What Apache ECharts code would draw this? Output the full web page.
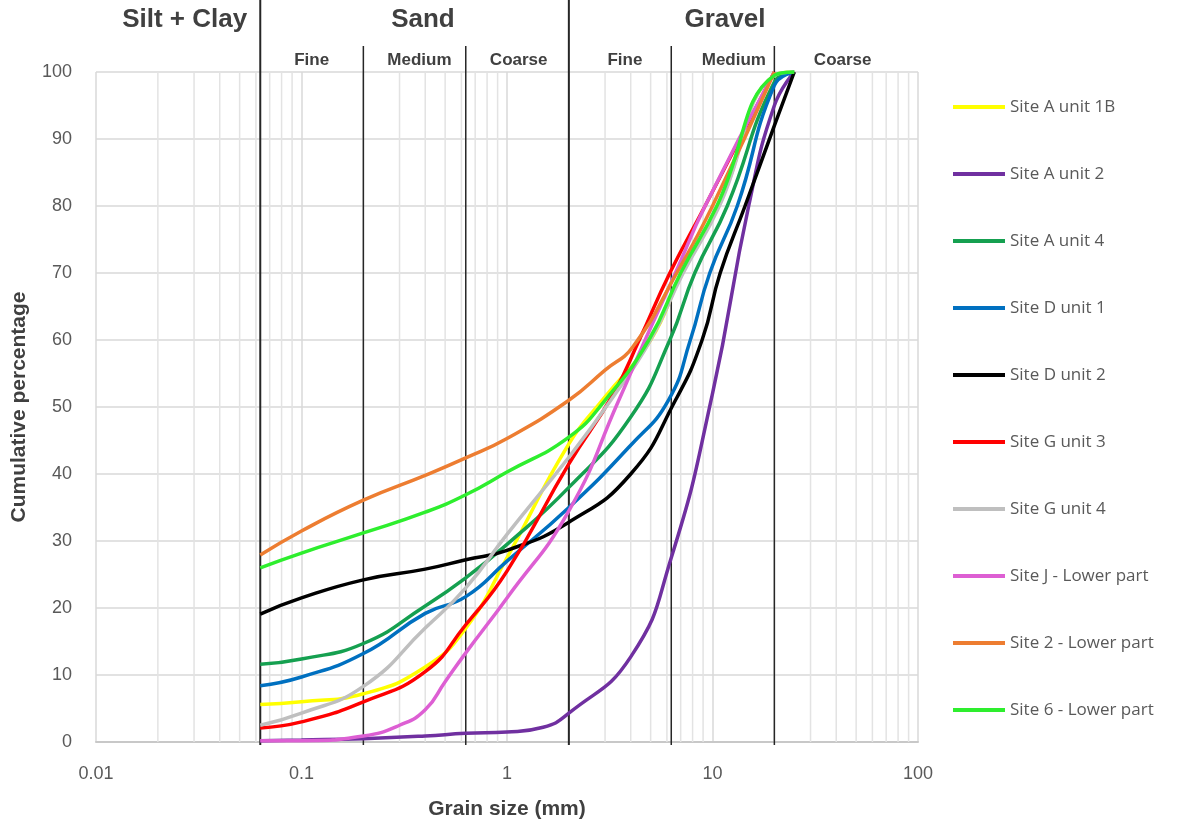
<!DOCTYPE html>
<html>
<head>
<meta charset="utf-8">
<script src="https://cdn.jsdelivr.net/npm/echarts@6/dist/echarts.min.js"></script>
<style>
  html, body { margin: 0; padding: 0; background: #fff; }
  #chart { width: 1181px; height: 825px; }
</style>
</head>
<body>
<div id="chart"></div>
<script>
// grain size (mm) and cumulative percentage
var siteA1B  = [[0.063, 5.6], [0.1, 6.0], [0.2, 7.2], [0.4, 11.2], [0.63, 17.0], [1, 27.5], [2, 44.5], [3, 51.5], [5.0, 60], [7.1, 70], [10.7, 80], [20, 99.5], [25, 100]];
var siteA2   = [[0.063, 0.2], [0.1, 0.3], [0.2, 0.5], [0.4, 0.9], [0.63, 1.3], [1, 1.5], [1.5, 2.2], [2, 4.3], [4, 12.7], [6.3, 27.5], [10, 52], [15, 80], [20, 95], [25, 100]];
var siteA4   = [[0.063, 11.6], [0.1, 12.4], [0.2, 14.7], [0.4, 20.3], [0.63, 24.5], [1, 29.5], [2, 38], [4, 48.5], [6.2, 60], [8.2, 70], [11.8, 80], [20, 98.5], [25, 100]];
var siteD1   = [[0.063, 8.4], [0.1, 9.7], [0.2, 13.2], [0.4, 19.2], [0.63, 21.7], [1, 27], [2, 35], [4, 44.3], [6.1, 51], [7.8, 60], [9.7, 70], [13.2, 80], [20, 98], [25, 100]];
var siteD2   = [[0.063, 19.1], [0.1, 21.5], [0.2, 24.2], [0.4, 25.8], [0.63, 27.2], [1, 28.6], [2, 32.8], [4, 40], [6.6, 51], [8.9, 60], [10.9, 70], [14.4, 80], [20, 92], [25, 100]];
var siteG3   = [[0.063, 2.1], [0.1, 3.0], [0.2, 6.0], [0.4, 10.5], [0.63, 17.5], [1, 25.5], [2, 41.5], [3.3, 52], [4.4, 60], [6.2, 70], [9.2, 80], [20, 100]];
var siteG4   = [[0.063, 2.5], [0.1, 4.3], [0.2, 8.3], [0.4, 17.0], [0.63, 23], [1, 31], [2, 42.5], [3.2, 51], [5.0, 60], [7.2, 70], [10.8, 80], [20, 99.5], [25, 100]];
var siteJ    = [[0.063, 0.2], [0.1, 0.2], [0.2, 0.9], [0.3, 2.5], [0.4, 4.8], [0.5, 9.0], [0.63, 13.3], [1, 21.5], [2, 34.5], [3.5, 51], [4.7, 60], [6.6, 70], [9.2, 80], [20, 100]];
var site2    = [[0.063, 27.9], [0.1, 31.5], [0.2, 36.1], [0.4, 39.8], [0.63, 42.4], [1, 45.3], [2, 51], [3, 55.5], [4.1, 59], [6.7, 70], [10, 80], [20, 100]];
var site6    = [[0.063, 26], [0.1, 28.2], [0.2, 31.2], [0.4, 34.3], [0.63, 36.9], [1, 40.3], [2, 45.5], [3, 51], [4.9, 60], [7.0, 70], [10.5, 80], [20, 99.5], [25, 100]];

var seriesNames  = ['Site A unit 1B', 'Site A unit 2', 'Site A unit 4', 'Site D unit 1', 'Site D unit 2', 'Site G unit 3', 'Site G unit 4', 'Site J - Lower part', 'Site 2 - Lower part', 'Site 6 - Lower part'];
var seriesData   = [siteA1B, siteA2, siteA4, siteD1, siteD2, siteG3, siteG4, siteJ, site2, site6];
var seriesColors = ['#ffff00', '#7030a0', '#15a050', '#0070c0', '#000000', '#ff0000', '#bfbfbf', '#dd5fd3', '#ed7d31', '#2eee2e'];

// class boundaries (mm)
var mainBounds = [0.063, 2];
var subBounds  = [0.2, 0.63, 6.3, 20];
// minor log grid lines
var minorTicks = [0.02, 0.03, 0.04, 0.05, 0.06, 0.07, 0.08, 0.09,
                  0.2, 0.3, 0.4, 0.5, 0.6, 0.7, 0.8, 0.9,
                  2, 3, 4, 5, 6, 7, 8, 9,
                  20, 30, 40, 50, 60, 70, 80, 90];
// headers: [grain size at label centre, text]
var mainLabels = [[0.027, 'Silt + Clay'], [0.39, 'Sand'], [11.5, 'Gravel']];
var subLabels  = [[0.112, 'Fine'], [0.375, 'Medium'], [1.14, 'Coarse'], [3.75, 'Fine'], [12.7, 'Medium'], [43, 'Coarse']];
var labelSets  = { head: mainLabels, sub: subLabels };

var dom = document.getElementById('chart');
var myChart = echarts.init(dom, null, { renderer: 'canvas' });

// vertical boundary line; full ones run to the top of the page
function vline(color, width, topOffset, full) {
    return function (params, api) {
        var v = api.value(0);
        var bottom = api.coord([v, 0]);
        var top = api.coord([v, 100]);
        return {
            type: 'line',
            shape: { x1: bottom[0], y1: full ? 0 : top[1] - topOffset, x2: bottom[0], y2: bottom[1] + 3 },
            style: { stroke: color, lineWidth: width }
        };
    };
}

function textItem(offset, size) {
    return function (params, api) {
        var p = api.coord([api.value(0), 100]);
        return {
            type: 'text',
            x: p[0], y: p[1] - offset,
            style: {
                text: labelSets[params.seriesName][params.dataIndex][1],
                fontFamily: 'Liberation Sans', fontWeight: 'bold', fontSize: size,
                fill: '#404040', align: 'center', verticalAlign: 'middle'
            }
        };
    };
}

var series = [
    {
        name: 'minor', type: 'custom', silent: true, z: 1, clip: false,
        renderItem: function (params, api) {
            var v = api.value(0);
            var b = api.coord([v, 0]);
            var t = api.coord([v, 100]);
            return { type: 'line', shape: { x1: b[0], y1: b[1], x2: t[0], y2: t[1] }, style: { stroke: '#e3e3e3', lineWidth: 1.5 } };
        },
        data: minorTicks.map(function (v) { return [v, 0]; })
    },
    {
        name: 'mainBounds', type: 'custom', silent: true, z: 3, clip: false,
        renderItem: vline('#262626', 2, 0, true),
        data: mainBounds.map(function (v) { return [v, 0]; })
    },
    {
        name: 'subBounds', type: 'custom', silent: true, z: 3, clip: false,
        renderItem: vline('#262626', 1.5, 26, false),
        data: subBounds.map(function (v) { return [v, 0]; })
    },
    {
        name: 'head', type: 'custom', silent: true, z: 5, clip: false,
        renderItem: textItem(52, 26),
        data: mainLabels.map(function (d) { return [d[0], 100]; })
    },
    {
        name: 'sub', type: 'custom', silent: true, z: 5, clip: false,
        renderItem: textItem(12, 17),
        data: subLabels.map(function (d) { return [d[0], 100]; })
    }
];

for (var i = 0; i < seriesNames.length; i++) {
    series.push({
        name: seriesNames[i],
        type: 'line',
        data: seriesData[i],
        smooth: 0.5,
        showSymbol: false,
        symbol: 'none',
        z: 4,
        color: seriesColors[i],
        lineStyle: { width: 3.5, color: seriesColors[i] }
    });
}

var option = {
    backgroundColor: '#ffffff',
    animation: false,
    grid: { left: 96, right: 263, top: 72, bottom: 83, containLabel: false, outerBoundsMode: 'none' },
    legend: {
        data: seriesNames,
        orient: 'vertical',
        left: 948,
        top: 92,
        icon: 'rect',
        itemWidth: 52,
        itemHeight: 4,
        itemGap: 47,
        textStyle: { fontFamily: 'Open Sans', fontSize: 17, color: '#595959', lineHeight: 20 }
    },
    xAxis: {
        type: 'log',
        logBase: 10,
        min: 0.01,
        max: 100,
        name: 'Grain size (mm)',
        nameLocation: 'middle',
        nameGap: 57,
        nameTextStyle: { fontFamily: 'Liberation Sans', fontWeight: 'bold', fontSize: 21, color: '#404040' },
        axisLine: { show: true, lineStyle: { color: '#c8c8c8', width: 2 } },
        axisTick: { show: false },
        axisLabel: {
            margin: 23,
            fontFamily: 'Liberation Sans', fontSize: 18, color: '#595959',
            formatter: function (v) { return String(parseFloat(v.toPrecision(6))); }
        },
        splitLine: { show: true, lineStyle: { color: '#d9d9d9', width: 1.5 } }
    },
    yAxis: {
        type: 'value',
        min: 0,
        max: 100,
        interval: 10,
        name: 'Cumulative percentage',
        nameLocation: 'middle',
        nameGap: 66,
        nameTextStyle: { fontFamily: 'Liberation Sans', fontWeight: 'bold', fontSize: 21, color: '#404040' },
        axisLine: { show: false },
        axisTick: { show: false },
        axisLabel: { margin: 24, fontFamily: 'Liberation Sans', fontSize: 18, color: '#595959' },
        splitLine: { show: true, lineStyle: { color: '#d9d9d9', width: 1.5 } }
    },
    series: series
};

myChart.setOption(option);
</script>
</body>
</html>
